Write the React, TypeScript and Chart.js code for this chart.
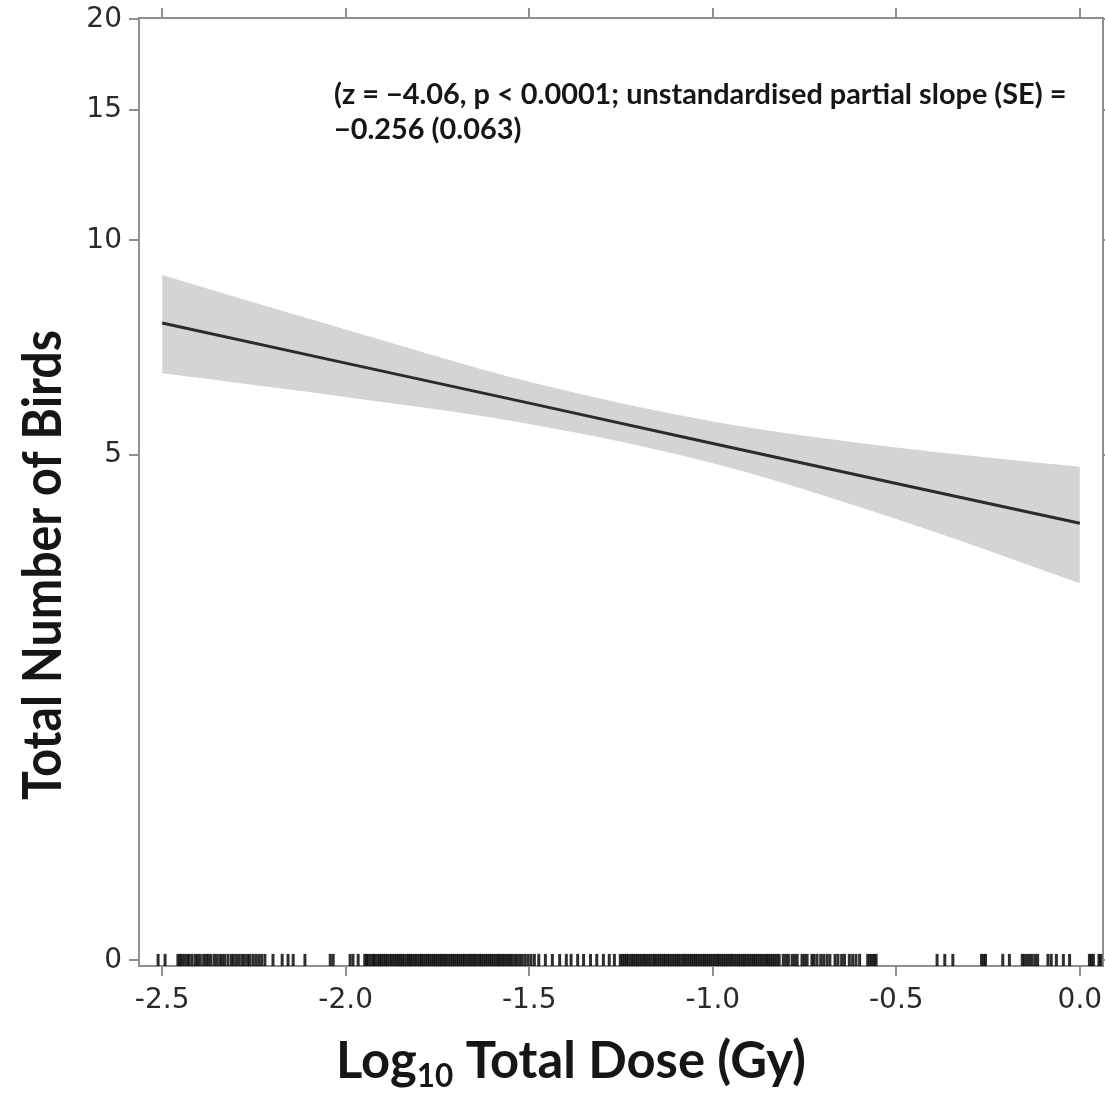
import React, { useEffect, useRef } from "react";
import { Chart, registerables, LinearScale } from "chart.js";

// ---- data ----
const xTicks = [-2.5, -2.0, -1.5, -1.0, -0.5, 0.0];
const yTicks = [0, 5, 10, 15, 20];
const doseX = [-2.5, -2.0, -1.5, -1.0, -0.5, 0.0];
const fitLine = [7.71, 6.78, 5.95, 5.2, 4.53, 3.93];
const ciUpper = [8.97, 7.55, 6.38, 5.6, 5.13, 4.8];
const ciLower = [6.56, 6.07, 5.55, 4.86, 3.99, 3.13];
const rugDose = [
  -2.511, -2.492,
  -2.457, -2.451, -2.446, -2.439, -2.431, -2.426, -2.418, -2.409, -2.403, -2.396, -2.387, -2.38, -2.374, -2.367,
  -2.358, -2.351, -2.343, -2.337, -2.33, -2.321, -2.312, -2.306, -2.298, -2.291, -2.283, -2.276, -2.268, -2.262,
  -2.253, -2.245, -2.237, -2.229, -2.22,
  -2.198, -2.173, -2.157, -2.143, -2.111, -2.042, -2.034, -1.988, -1.98, -1.966,
  -1.948, -1.943, -1.938, -1.931, -1.925, -1.921, -1.914, -1.908, -1.903, -1.897, -1.891, -1.886, -1.879, -1.874,
  -1.868, -1.862, -1.857, -1.851, -1.846, -1.84, -1.833, -1.828, -1.823, -1.817, -1.811, -1.806, -1.799, -1.794,
  -1.789, -1.783, -1.777, -1.772, -1.766, -1.76, -1.755, -1.749, -1.743, -1.738, -1.732, -1.727, -1.721, -1.715,
  -1.709, -1.704, -1.698, -1.693, -1.687, -1.681, -1.676, -1.67, -1.664, -1.659, -1.653, -1.648, -1.642, -1.636,
  -1.631, -1.625, -1.619, -1.614, -1.608, -1.603, -1.597, -1.591, -1.585, -1.58, -1.574, -1.569, -1.563, -1.557,
  -1.552,
  -1.546, -1.539, -1.533, -1.526, -1.519, -1.511, -1.503, -1.495, -1.486, -1.474, -1.456, -1.437, -1.417, -1.399,
  -1.386, -1.368, -1.352, -1.333, -1.316, -1.298, -1.282, -1.268,
  -1.252, -1.246, -1.24, -1.235, -1.229, -1.222, -1.217, -1.211, -1.205, -1.199, -1.193, -1.187, -1.182, -1.176,
  -1.17, -1.163, -1.158, -1.152, -1.146, -1.14, -1.134, -1.129, -1.123, -1.117, -1.111, -1.105, -1.099, -1.094,
  -1.088, -1.081, -1.076, -1.07, -1.064, -1.058, -1.052, -1.047, -1.041, -1.035, -1.029, -1.023, -1.018, -1.012,
  -1.006, -1.0, -0.994, -0.988, -0.983, -0.977, -0.971, -0.965, -0.959, -0.953, -0.948, -0.942, -0.936, -0.93,
  -0.924, -0.918, -0.913, -0.907, -0.901, -0.895, -0.889, -0.884, -0.878, -0.872, -0.866, -0.86, -0.854, -0.849,
  -0.843, -0.837, -0.831, -0.825, -0.819,
  -0.808, -0.801, -0.794, -0.784, -0.777, -0.77, -0.757, -0.75, -0.743, -0.73, -0.724, -0.716, -0.706, -0.698,
  -0.689, -0.681, -0.667, -0.659, -0.649, -0.641, -0.628, -0.619, -0.61, -0.6, -0.578, -0.572, -0.566, -0.56,
  -0.555,
  -0.389, -0.368, -0.346, -0.268, -0.262, -0.257, -0.21, -0.192, -0.157, -0.151, -0.144, -0.137, -0.13, -0.122,
  -0.115, -0.087, -0.078, -0.064, -0.045, -0.028, 0.026, 0.031, 0.037, 0.052, 0.057,
];

const annotation1 = "(z = \u22124.06, p < 0.0001; unstandardised partial slope (SE) =";
const annotation2 = "\u22120.256 (0.063)";
const yTitle = "Total Number of Birds";

// ---- custom compressed count scale ----
const SHIFT = 3.5;
const POW = 0.3;
const tf = (v: number) => -Math.pow(v + SHIFT, -POW);

class CountScale extends (LinearScale as any) {
  static id = "countScale";
  static defaults = (LinearScale as any).defaults;
  getPixelForValue(value: number) {
    if (value === null || value === undefined || isNaN(value)) return NaN;
    const t0 = tf(this.min);
    const t1 = tf(this.max);
    return this.getPixelForDecimal((tf(value) - t0) / (t1 - t0));
  }
  getValueForPixel(pixel: number) {
    const t0 = tf(this.min);
    const t1 = tf(this.max);
    const t = t0 + this.getDecimalForPixel(pixel) * (t1 - t0);
    return Math.pow(-t, -1 / POW) - SHIFT;
  }
}

Chart.register(...registerables, CountScale as any);

const AXIS_COLOR = "#909090";
const TICK_FONT = { family: "'DejaVu Sans'", size: 28 };

const textPlugin = {
  id: "texts",
  afterDraw(chart: any) {
    const ctx = chart.ctx;
    ctx.save();
    ctx.fillStyle = "#161616";
    ctx.textBaseline = "alphabetic";

    // annotation
    ctx.font = "bold 20px Lato";
    const w1 = ctx.measureText(annotation1).width;
    const aSize = (20 * 733) / w1;
    ctx.font = `bold ${aSize}px Lato`;
    ctx.textAlign = "left";
    ctx.fillText(annotation1, 334, 104);
    ctx.fillText(annotation2, 334, 139);

    // y title
    ctx.font = "bold 20px Lato";
    const wy = ctx.measureText(yTitle).width;
    const ySize = (20 * 470) / wy;
    ctx.save();
    ctx.translate(61, 565);
    ctx.rotate(-Math.PI / 2);
    ctx.scale(1, 1.12);
    ctx.textAlign = "center";
    ctx.font = `bold ${ySize}px Lato`;
    ctx.fillText(yTitle, 0, 0);
    ctx.restore();

    // x title with subscript
    const parts = [
      { t: "Log", s: 1, dy: 0 },
      { t: "10", s: 0.62, dy: 9 },
      { t: " Total Dose (Gy)", s: 1, dy: 0 },
    ];
    let total = 0;
    for (const p of parts) {
      ctx.font = `bold ${20 * p.s}px Lato`;
      total += ctx.measureText(p.t).width;
    }
    const xs = 470 / total;
    let x = 336;
    ctx.textAlign = "left";
    for (const p of parts) {
      ctx.font = `bold ${20 * xs * p.s}px Lato`;
      ctx.fillText(p.t, x, 1078 + p.dy);
      x += ctx.measureText(p.t).width;
    }
    ctx.restore();
  },
};

export default function App() {
  const ref = useRef<HTMLCanvasElement | null>(null);

  useEffect(() => {
    if (!ref.current) return;
    const gridOpts = {
      drawOnChartArea: false,
      drawTicks: true,
      tickLength: 10,
      color: AXIS_COLOR,
      lineWidth: 2,
    };
    const borderOpts = { display: true, color: AXIS_COLOR, width: 2 };
    const setX = (s: any) => {
      s.ticks = xTicks.map((v) => ({ value: v }));
    };
    const setY = (s: any) => {
      s.ticks = yTicks.map((v) => ({ value: v }));
    };
    const fitSize = (w: number | null, h: number | null) => (s: any) => {
      if (w !== null) s.width = w;
      if (h !== null) s.height = h;
      s.paddingTop = 0;
      s.paddingBottom = 0;
      s.paddingLeft = 0;
      s.paddingRight = 0;
    };

    const chart = new Chart(ref.current, {
      type: "line",
      data: {
        datasets: [
          {
            label: "upper",
            data: doseX.map((x, i) => ({ x, y: ciUpper[i] })),
            borderWidth: 0,
            pointRadius: 0,
            backgroundColor: "#d4d4d4",
            cubicInterpolationMode: "monotone",
            fill: "+1",
            order: 3,
          },
          {
            label: "lower",
            data: doseX.map((x, i) => ({ x, y: ciLower[i] })),
            borderWidth: 0,
            pointRadius: 0,
            cubicInterpolationMode: "monotone",
            fill: false,
            order: 3,
          },
          {
            label: "fit",
            data: doseX.map((x, i) => ({ x, y: fitLine[i] })),
            borderColor: "#2b2b2b",
            borderWidth: 3,
            pointRadius: 0,
            fill: false,
            order: 2,
          },
          {
            type: "scatter",
            label: "rug",
            data: rugDose.map((x) => ({ x, y: 0 })),
            showLine: false,
            pointStyle: "line",
            rotation: 90,
            pointRadius: 6.5,
            pointBorderWidth: 3,
            pointBorderColor: "rgba(10,10,10,0.85)",
            pointBackgroundColor: "rgba(10,10,10,0.85)",
            order: 1,
          } as any,
        ],
      },
      options: {
        responsive: false,
        animation: false,
        events: [],
        layout: { padding: 0, autoPadding: false },
        plugins: { legend: { display: false }, tooltip: { enabled: false } },
        scales: {
          x: {
            type: "linear",
            position: "bottom",
            min: -2.563,
            max: 0.063,
            bounds: "data",
            afterBuildTicks: setX,
            afterFit: fitSize(null, 130),
            grid: gridOpts,
            border: borderOpts,
            ticks: {
              autoSkip: false,
              maxRotation: 0,
              padding: 8,
              color: "#2a2a2a",
              font: TICK_FONT,
              callback: (v: any) => Number(v).toFixed(1),
            },
          },
          x2: {
            type: "linear",
            position: "top",
            min: -2.563,
            max: 0.063,
            bounds: "data",
            afterBuildTicks: setX,
            afterFit: fitSize(null, 18),
            grid: gridOpts,
            border: borderOpts,
            ticks: { display: false },
          },
          y: {
            type: "countScale" as any,
            position: "left",
            min: -0.03,
            max: 20.08,
            bounds: "data",
            afterBuildTicks: setY,
            afterFit: fitSize(139, null),
            grid: gridOpts,
            border: borderOpts,
            ticks: {
              autoSkip: false,
              padding: 7,
              color: "#2a2a2a",
              font: TICK_FONT,
              callback: (v: any) => String(v),
            },
          },
          y2: {
            type: "countScale" as any,
            position: "right",
            min: -0.03,
            max: 20.08,
            bounds: "data",
            afterBuildTicks: setY,
            afterFit: fitSize(2, null),
            grid: gridOpts,
            border: borderOpts,
            ticks: { display: false },
          },
        } as any,
      },
      plugins: [textPlugin],
    } as any);

    return () => chart.destroy();
  }, []);

  return (
    <div style={{ position: "absolute", left: 0, top: 0, width: 1105, height: 1096, background: "#fff" }}>
      <canvas ref={ref} width={1105} height={1096} style={{ display: "block" }} />
    </div>
  );
}
